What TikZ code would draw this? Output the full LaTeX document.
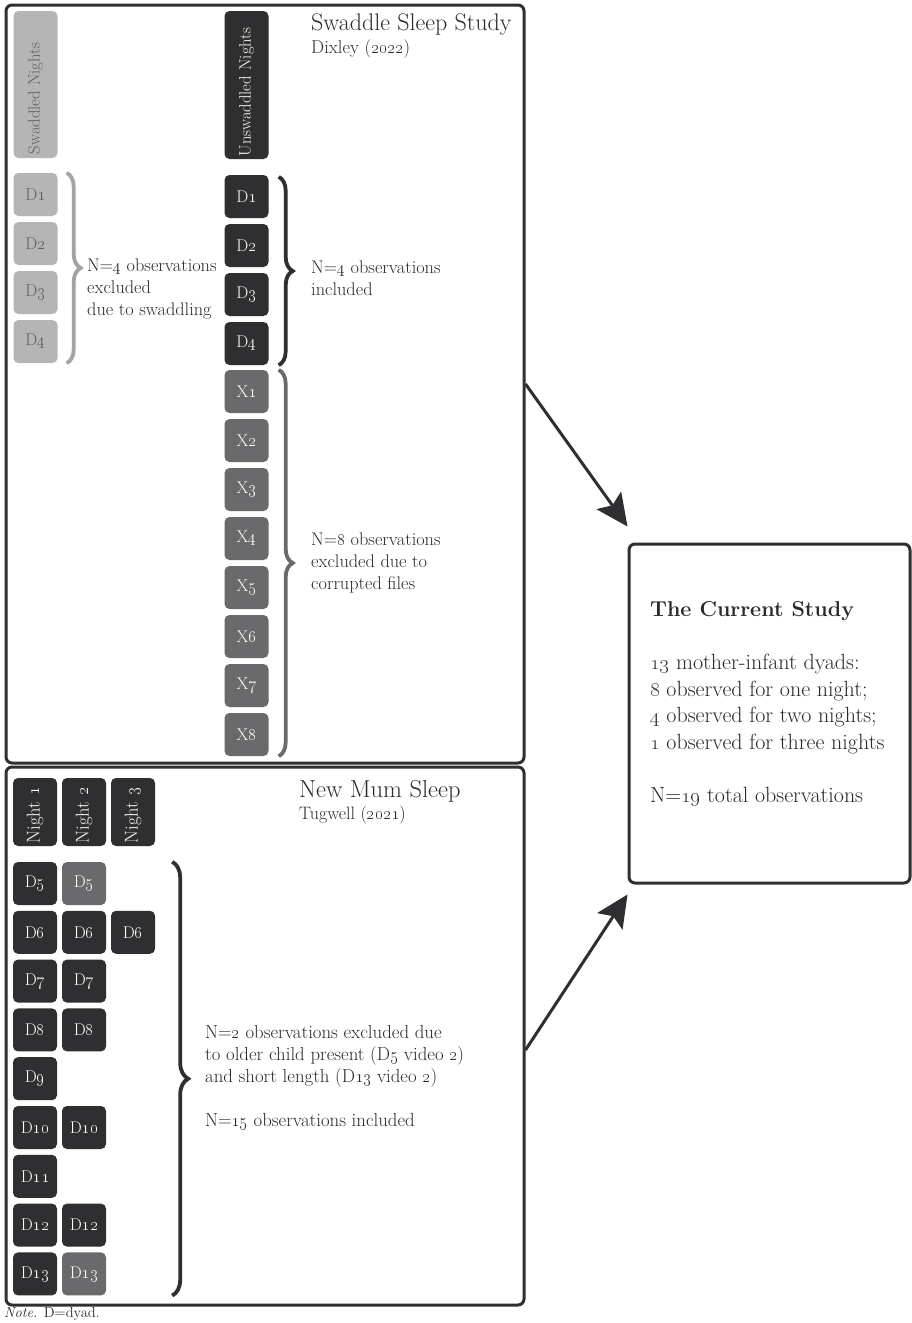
\documentclass[tikz,border=0pt]{standalone}
\usetikzlibrary{decorations.pathreplacing,arrows.meta,calc}
\definecolor{dkc}{HTML}{2F2F31}
\definecolor{ltc}{HTML}{B5B5B5}
\definecolor{mdc}{HTML}{6A6A6C}
\definecolor{txt}{HTML}{2A2A2A}
\definecolor{ltt}{HTML}{5E5E5E}
\definecolor{lbr}{HTML}{A3A3A3}
\newcommand{\os}[1]{\oldstylenums{#1}}
\newcommand{\fs}[2]{\fontsize{#1}{#2}\selectfont}
\begin{document}
\begin{tikzpicture}[x=1pt,y=-1pt,
  cell/.style={rounded corners=5pt, minimum width=44pt, minimum height=43pt, inner sep=0pt, font=\fs{17}{17}},
  dk/.style={cell, fill=dkc, text=white},
  lt/.style={cell, fill=ltc, text=ltt},
  md/.style={cell, fill=mdc, text=white},
  hdr/.style={rotate=90, rounded corners=5pt, minimum height=44pt, inner sep=0pt, align=left, font=\fs{16.5}{16.5}},
  frame/.style={draw=dkc, line width=3pt, rounded corners=6pt, inner sep=0pt},
  brc/.style={decorate, decoration={brace, amplitude=14pt}, line width=3.8pt},
  body/.style={text=txt, align=left, inner sep=0pt, font=\fs{18.3}{22}},
  arr/.style={draw=dkc, line width=3pt, -{Stealth[length=32pt, width=30pt, inset=6pt]}}
]
\useasboundingbox (0,0) rectangle (911,1323);
\fill[white] (0,0) rectangle (911,1323);

% frames
\node[frame, minimum width=518pt, minimum height=758pt] (swaddle) at (265,384) {};
\node[frame, minimum width=518pt, minimum height=538pt] (newmum) at (265,1036) {};
\node[frame, minimum width=281pt, minimum height=339pt] (current) at (769.5,713.5) {};

% Swaddle study titles
\node[anchor=west, text=txt, inner sep=0pt, font=\fs{24}{24}] (t1) at (311,25) {Swaddle Sleep Study};
\node[anchor=west, text=txt, inner sep=0pt, font=\fs{18.5}{18.5}] (t1b) at (311,49) {Dixley (\os{2022})};

% headers
\node[hdr, fill=ltc, text=ltt, minimum width=147pt, text width=139pt] (hs) at (35.5,84.5) {Swaddled Nights};
\node[hdr, fill=dkc, text=white, minimum width=148pt, text width=142pt] (hu) at (246.5,85) {Unswaddled Nights};

% swaddled cells
\foreach \i/\y in {1/194.5,2/243.5,3/292.5,4/341.5}
  \node[lt] (s\i) at (35.5,\y) {D\os{\i}};
% unswaddled cells
\foreach \i/\y in {1/196.5,2/245.5,3/294.5,4/343.5}
  \node[dk] (u\i) at (246.5,\y) {D\os{\i}};
\foreach \i in {1,...,8}
  \node[md] (x\i) at (246.5,{391.5+49*(\i-1)}) {X\os{\i}};

% braces top
\draw[brc, draw=lbr] ([xshift=9pt]s1.north east) -- ([xshift=9pt]s4.south east);
\draw[brc, draw=dkc] ([xshift=10pt,yshift=-2pt]u1.north east) -- ([xshift=10pt]u4.south east);
\draw[brc, draw=mdc] ([xshift=10pt]x1.north east) -- ([xshift=10pt]x8.south east);

\node[body, anchor=west] (l1) at (87,289) {N=\os{4} observations\\excluded\\due to swaddling};
\node[body, anchor=west] (l2) at (311,278) {N=\os{4} observations\\included};
\node[body, anchor=west] (l3) at (311,563) {N=\os{8} observations\\excluded due to\\corrupted files};

% New Mum Sleep
\node[anchor=west, text=txt, inner sep=0pt, font=\fs{24.5}{24.5}] (t2) at (299,791) {New Mum Sleep};
\node[anchor=west, text=txt, inner sep=0pt, font=\fs{18}{18}] (t2b) at (299,815) {Tugwell (\os{2021})};

\foreach \k/\x in {1/35,2/84,3/133}
  \node[hdr, fill=dkc, text=white, minimum width=68pt, text width=62pt, font=\fs{18.5}{18.5}] (n\k) at (\x,812) {Night \os{\k}};

\foreach \d [count=\k from 0] in {5,6,7,8,9,10,11,12,13}
  \node[dk] (a\d) at (35,{883.5+48.8*\k}) {D\os{\d}};
\node[md] (b5) at (84,883.5) {D\os{5}};
\node[dk] (b6) at (84,932.3) {D\os{6}};
\node[dk] (b7) at (84,981.1) {D\os{7}};
\node[dk] (b8) at (84,1029.9) {D\os{8}};
\node[dk] (b10) at (84,1127.5) {D\os{10}};
\node[dk] (b12) at (84,1225.1) {D\os{12}};
\node[md] (b13) at (84,1273.9) {D\os{13}};
\node[dk] (c6) at (133,932.3) {D\os{6}};

\draw[brc, draw=dkc, decoration={brace, amplitude=16pt}] ([xshift=66pt]b5.north east) -- ([xshift=66pt]b13.south east);

\node[body, anchor=west, font=\fs{18.8}{22}] (l4) at (205,1078) {N=\os{2} observations excluded due\\to older child present (D\os{5} video \os{2})\\and short length (D\os{13} video \os{2})\\[22pt]N=\os{15} observations included};

% Current study
\node[text=txt, align=left, inner sep=0pt, anchor=west, font=\fs{22}{26.5}] (cs) at (650,704)
  {{\bfseries\fs{21.5}{26.5}The Current Study}\\[26.5pt]%
   \os{13} mother-infant dyads:\\
   \os{8} observed for one night;\\
   \os{4} observed for two nights;\\
   \os{1} observed for three nights\\[26.5pt]
   N=\os{19} total observations};

% arrows
\draw[arr] (swaddle.east) -- ([yshift=16pt]current.north west);
\draw[arr] ([yshift=-14pt]newmum.east) -- ([yshift=-10pt]current.south west);

% note
\node[anchor=west, text=txt, inner sep=0pt, font=\fs{14.5}{14.5}] (note) at (4,1314) {\textit{Note.} D=dyad.};
\end{tikzpicture}
\end{document}
